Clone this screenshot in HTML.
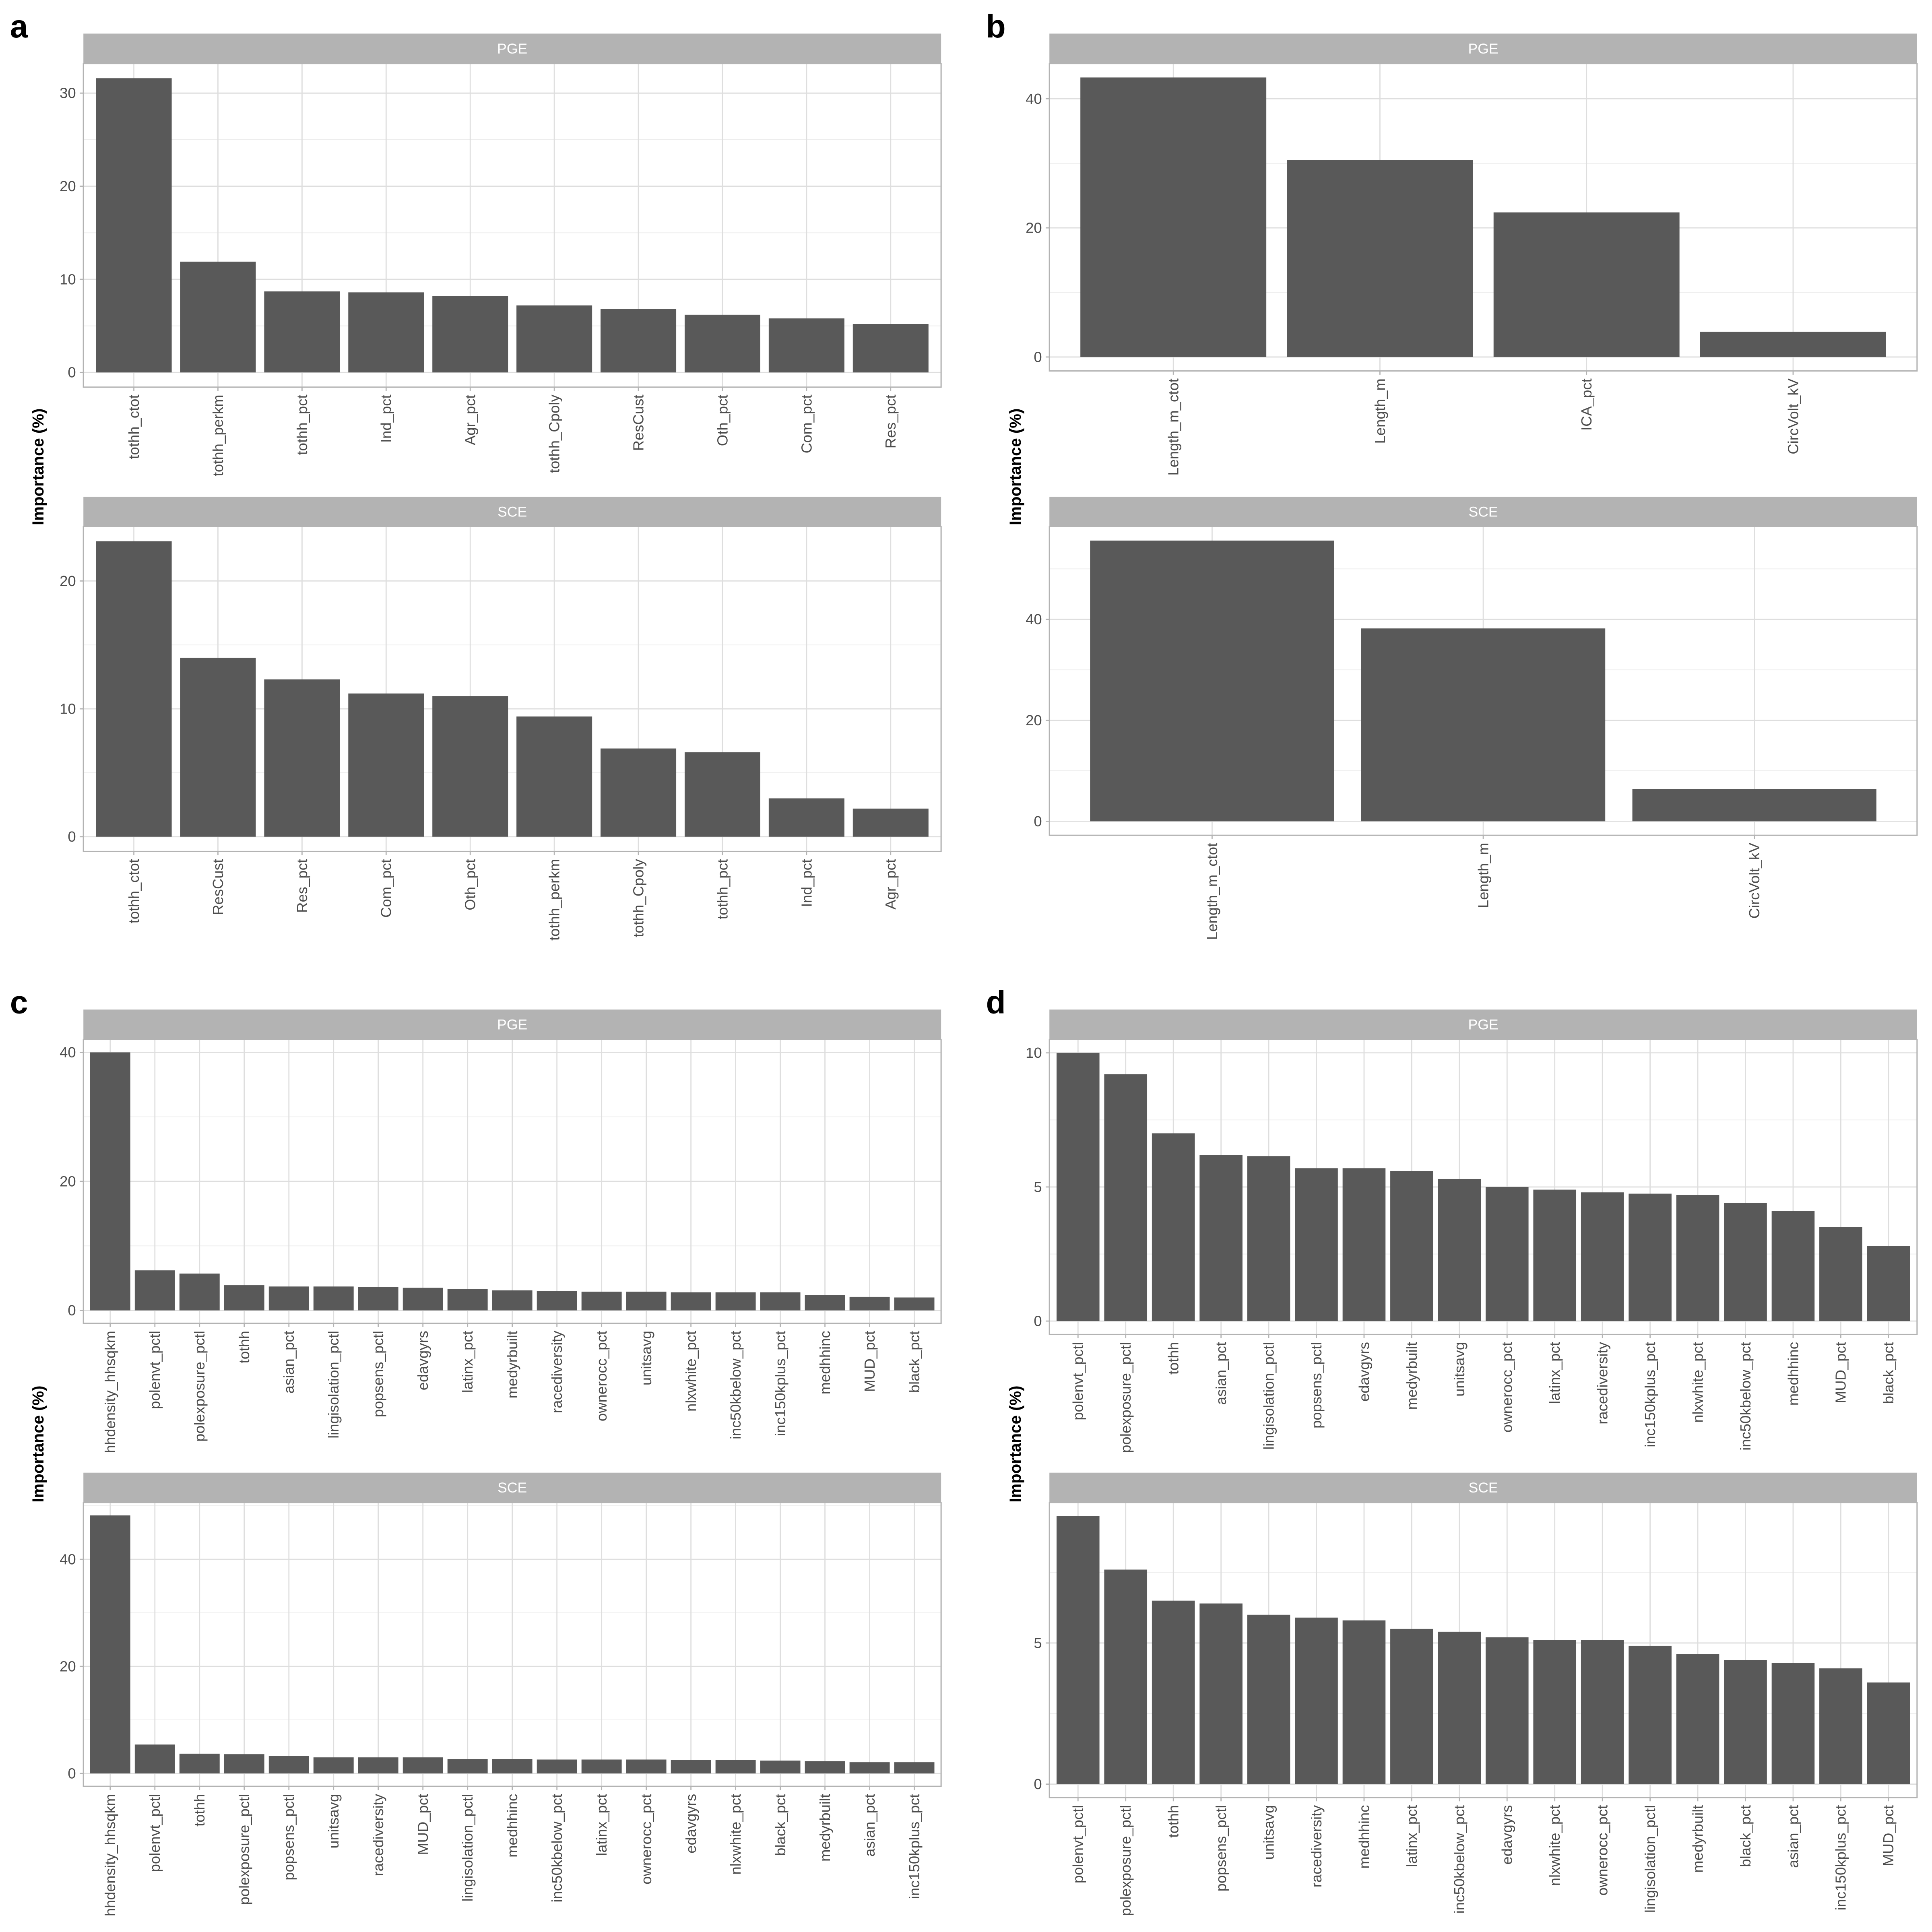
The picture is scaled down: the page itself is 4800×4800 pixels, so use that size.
<!DOCTYPE html>
<html><head><meta charset="utf-8"><style>
html,body{margin:0;padding:0;background:#fff;}
svg{display:block;font-family:"Liberation Sans",sans-serif;}
</style></head><body>
<svg id="fig" width="4800" height="4800" viewBox="0 0 1552 1552" xmlns="http://www.w3.org/2000/svg">
<rect x="0" y="0" width="1552" height="1552" fill="#fff"/>
<text x="8" y="30" font-size="26" font-weight="bold">a</text>
<text x="792" y="30" font-size="26" font-weight="bold">b</text>
<text x="8" y="814" font-size="26" font-weight="bold">c</text>
<text x="792" y="814" font-size="26" font-weight="bold">d</text>
<text transform="translate(35,375) rotate(-90)" text-anchor="middle" font-size="13" font-weight="bold">Importance (%)</text>
<text transform="translate(820,375) rotate(-90)" text-anchor="middle" font-size="13" font-weight="bold">Importance (%)</text>
<text transform="translate(35,1160) rotate(-90)" text-anchor="middle" font-size="13" font-weight="bold">Importance (%)</text>
<text transform="translate(820,1160) rotate(-90)" text-anchor="middle" font-size="13" font-weight="bold">Importance (%)</text>
</svg>
<script>
const aPgeCats = ["tothh_ctot","tothh_perkm","tothh_pct","Ind_pct","Agr_pct","tothh_Cpoly","ResCust","Oth_pct","Com_pct","Res_pct"];
const aPgeVals = [31.6,11.9,8.7,8.6,8.2,7.2,6.8,6.2,5.8,5.2];
const aSceCats = ["tothh_ctot","ResCust","Res_pct","Com_pct","Oth_pct","tothh_perkm","tothh_Cpoly","tothh_pct","Ind_pct","Agr_pct"];
const aSceVals = [23.1,14.0,12.3,11.2,11.0,9.4,6.9,6.6,3.0,2.2];
const bPgeCats = ["Length_m_ctot","Length_m","ICA_pct","CircVolt_kV"];
const bPgeVals = [43.3,30.5,22.4,3.9];
const bSceCats = ["Length_m_ctot","Length_m","CircVolt_kV"];
const bSceVals = [55.6,38.2,6.4];
const cPgeCats = ["hhdensity_hhsqkm","polenvt_pctl","polexposure_pctl","tothh","asian_pct","lingisolation_pctl","popsens_pctl","edavgyrs","latinx_pct","medyrbuilt","racediversity","ownerocc_pct","unitsavg","nlxwhite_pct","inc50kbelow_pct","inc150kplus_pct","medhhinc","MUD_pct","black_pct"];
const cPgeVals = [40.0,6.2,5.7,3.9,3.7,3.7,3.6,3.5,3.3,3.1,3.0,2.9,2.9,2.8,2.8,2.8,2.4,2.1,2.0];
const cSceCats = ["hhdensity_hhsqkm","polenvt_pctl","tothh","polexposure_pctl","popsens_pctl","unitsavg","racediversity","MUD_pct","lingisolation_pctl","medhhinc","inc50kbelow_pct","latinx_pct","ownerocc_pct","edavgyrs","nlxwhite_pct","black_pct","medyrbuilt","asian_pct","inc150kplus_pct"];
const cSceVals = [48.2,5.4,3.7,3.6,3.3,3.0,3.0,3.0,2.7,2.7,2.6,2.6,2.6,2.5,2.5,2.4,2.3,2.1,2.1];
const dPgeCats = ["polenvt_pctl","polexposure_pctl","tothh","asian_pct","lingisolation_pctl","popsens_pctl","edavgyrs","medyrbuilt","unitsavg","ownerocc_pct","latinx_pct","racediversity","inc150kplus_pct","nlxwhite_pct","inc50kbelow_pct","medhhinc","MUD_pct","black_pct"];
const dPgeVals = [10.0,9.2,7.0,6.2,6.15,5.7,5.7,5.6,5.3,5.0,4.9,4.8,4.75,4.7,4.4,4.1,3.5,2.8];
const dSceCats = ["polenvt_pctl","polexposure_pctl","tothh","popsens_pctl","unitsavg","racediversity","medhhinc","latinx_pct","inc50kbelow_pct","edavgyrs","nlxwhite_pct","ownerocc_pct","lingisolation_pctl","medyrbuilt","black_pct","asian_pct","inc150kplus_pct","MUD_pct"];
const dSceVals = [9.5,7.6,6.5,6.4,6.0,5.9,5.8,5.5,5.4,5.2,5.1,5.1,4.9,4.6,4.4,4.3,4.1,3.6];
const tickSteps = {a:10,b:20,c:20,d:5};

const NS = "http://www.w3.org/2000/svg";
const fig = document.getElementById('fig');
function mk(tag, attrs, parent){
  const e = document.createElementNS(NS, tag);
  for (const k in attrs) e.setAttribute(k, attrs[k]);
  (parent||fig).appendChild(e); return e;
}
function panel(id, strip, cats, vals, x0, x1, sy0, py1, step){
  const g = mk('g', {});
  
  
  const py0 = sy0 + 24;
  const M = Math.max(...vals);
  const ymin = -0.05*M, ymax = 1.05*M;
  const yS = v => py1 - (v - ymin)/(ymax - ymin)*(py1 - py0);
  const n = cats.length;
  const xS = i => x0 + (i + 1 - 0.4)/(n + 0.2)*(x1 - x0);
  const bw = 0.9*(x1 - x0)/(n + 0.2);
  const st = mk('rect', {x:x0, y:sy0, width:x1-x0, height:24, fill:'#b3b3b3'}, g);
  
  
  const stt = mk('text', {x:(x0+x1)/2, y:sy0+16, 'text-anchor':'middle', 'font-size':'11.5', fill:'#fff'}, g);
  stt.textContent = strip;
  
  
  for (let v = step/2; v < ymax; v += step) {
    mk('line', {x1:x0, x2:x1, y1:yS(v), y2:yS(v), stroke:'#ededed', 'stroke-width':0.6}, g);
  }
  for (let v = 0; v < ymax; v += step) {
    mk('line', {x1:x0, x2:x1, y1:yS(v), y2:yS(v), stroke:'#dedede', 'stroke-width':0.9}, g);
    mk('line', {x1:x0-3, x2:x0, y1:yS(v), y2:yS(v), stroke:'#b3b3b3', 'stroke-width':0.9}, g);
    const t = mk('text', {x:x0-6, y:yS(v)+4, 'text-anchor':'end', 'font-size':'11.8', fill:'#4d4d4d'}, g);
    t.textContent = String(v);
    
    
  }
  for (let i = 0; i < n; i++) {
    const cx = xS(i);
    mk('line', {x1:cx, x2:cx, y1:py0, y2:py1, stroke:'#dedede', 'stroke-width':0.9}, g);
    mk('line', {x1:cx, x2:cx, y1:py1, y2:py1+3, stroke:'#b3b3b3', 'stroke-width':0.9}, g);
  }
  for (let i = 0; i < n; i++) {
    const cx = xS(i);
    const b = mk('rect', {x:cx-bw/2, y:yS(vals[i]), width:bw, height:yS(0)-yS(vals[i]), fill:'#595959'}, g);
    
    
    const t = mk('text', {transform:'translate('+(cx+4)+','+(py1+6)+') rotate(-90)', 'text-anchor':'end', 'font-size':'11.8', fill:'#4d4d4d'}, g);
    t.textContent = cats[i];
    
    
  }
  mk('rect', {x:x0, y:py0, width:x1-x0, height:py1-py0, fill:'none', stroke:'#b3b3b3', 'stroke-width':1}, g);
}
panel('a-pge','PGE',aPgeCats,aPgeVals,67,756,27,311,tickSteps.a);
panel('a-sce','SCE',aSceCats,aSceVals,67,756,399,684,tickSteps.a);
panel('b-pge','PGE',bPgeCats,bPgeVals,843,1540,27,298,tickSteps.b);
panel('b-sce','SCE',bSceCats,bSceVals,843,1540,399,671,tickSteps.b);
panel('c-pge','PGE',cPgeCats,cPgeVals,67,756,811,1063,tickSteps.c);
panel('c-sce','SCE',cSceCats,cSceVals,67,756,1183,1435,tickSteps.c);
panel('d-pge','PGE',dPgeCats,dPgeVals,843,1540,811,1072,tickSteps.d);
panel('d-sce','SCE',dSceCats,dSceVals,843,1540,1183,1444,tickSteps.d);
</script>
</body></html>
